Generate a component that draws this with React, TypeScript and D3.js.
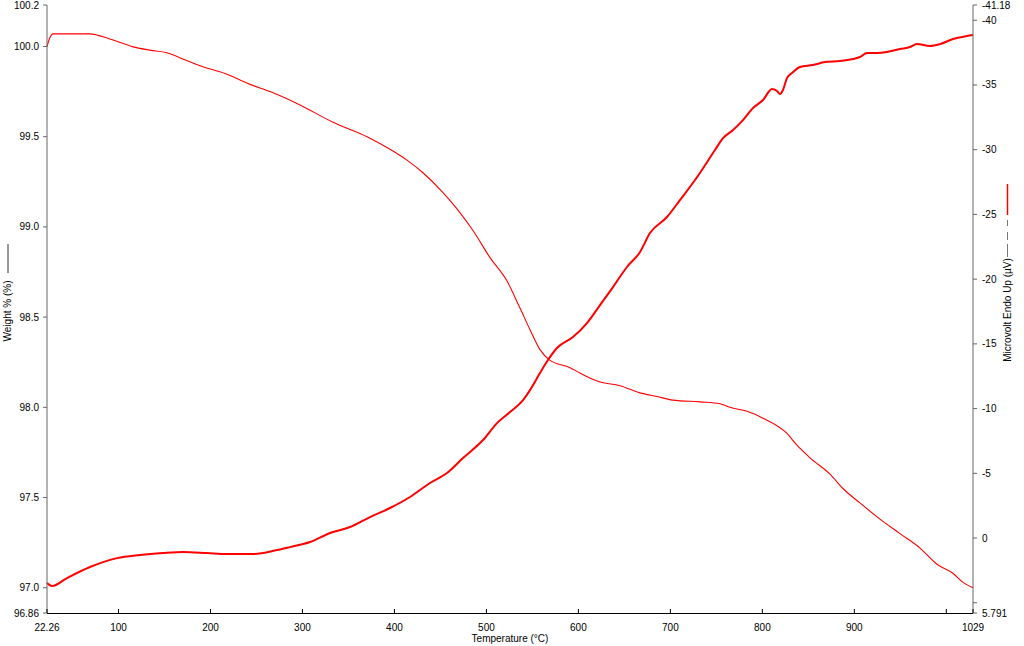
import React from 'react'
import * as d3 from 'd3'

// Weight % curve (thin line)
const weightTemps = [22.26, 25.5, 28.8, 36.4, 69.0, 83.1, 99.5, 115.8, 134.2, 152.7, 172.3, 188.6, 215.8, 243.0, 264.7, 297.3, 333.2, 370.2, 395.2, 413.6, 431.0, 452.8, 468.0, 485.4, 503.9, 522.4, 536.5, 547.4, 558.2, 569.1, 590.9, 601.7, 623.5, 645.2, 666.9, 685.4, 702.7, 732.2, 753.9, 764.8, 783.3, 800.7, 826.8, 837.6, 851.8, 873.5, 887.6, 906.1, 927.9, 949.6, 971.4, 989.8, 1007.2, 1018.1, 1029]
const weightValues = [100.0, 100.05, 100.07, 100.07, 100.07, 100.054, 100.026, 99.998, 99.98, 99.965, 99.926, 99.893, 99.85, 99.79, 99.75, 99.676, 99.58, 99.5, 99.43, 99.37, 99.3, 99.19, 99.1, 98.98, 98.83, 98.7, 98.55, 98.43, 98.32, 98.26, 98.22, 98.19, 98.14, 98.12, 98.08, 98.06, 98.04, 98.03, 98.02, 98.0, 97.978, 97.94, 97.855, 97.79, 97.72, 97.63, 97.55, 97.47, 97.38, 97.3, 97.22, 97.13, 97.08, 97.03, 97.0]

// Microvolt curve (thick line)
const dscTemps = [22.26, 27.7, 44.0, 69.0, 98.4, 123.4, 148.4, 170.1, 196.2, 217.9, 246.2, 272.3, 286.4, 308.2, 329.9, 351.7, 373.4, 395.2, 416.9, 438.7, 457.1, 474.5, 496.3, 511.5, 525.6, 539.8, 547.4, 558.2, 566.9, 576.7, 594.1, 609.3, 623.5, 637.6, 652.8, 667.0, 677.8, 696.3, 710.4, 726.8, 748.5, 757.2, 768.1, 778.9, 789.8, 800.7, 810.5, 815.9, 819.2, 822.4, 826.8, 832.2, 840.9, 855.0, 868.1, 884.4, 898.5, 906.1, 913.7, 924.6, 935.5, 949.6, 960.5, 968.1, 982.2, 993.1, 1007.2, 1022.4, 1029]
const dscValues = [3.48, 3.71, 3.09, 2.24, 1.55, 1.31, 1.16, 1.08, 1.16, 1.24, 1.24, 0.93, 0.7, 0.31, -0.39, -0.85, -1.62, -2.32, -3.17, -4.25, -5.02, -6.18, -7.57, -8.88, -9.73, -10.66, -11.43, -12.75, -13.75, -14.68, -15.53, -16.61, -18.0, -19.39, -20.94, -22.1, -23.56, -24.8, -26.11, -27.66, -29.98, -30.9, -31.52, -32.29, -33.22, -33.84, -34.69, -34.53, -34.3, -34.61, -35.54, -35.92, -36.39, -36.54, -36.77, -36.85, -37.01, -37.16, -37.47, -37.47, -37.55, -37.78, -37.93, -38.16, -38.01, -38.16, -38.55, -38.78, -38.86]

// axis ticks and labels
const xTicks = [22.26, 100, 200, 300, 400, 500, 600, 700, 800, 900, 1000, 1029]
const xLabels = ['22.26', '100', '200', '300', '400', '500', '600', '700', '800', '900', '', '1029']
const leftTicks = [96.86, 97.0, 97.5, 98.0, 98.5, 99.0, 99.5, 100.0, 100.23]
const leftLabels = ['96.86', '97.0', '97.5', '98.0', '98.5', '99.0', '99.5', '100.0', '100.2']
const rightTicks = [-41.18, -40, -35, -30, -25, -20, -15, -10, -5, 0, 5, 5.791]
const rightLabels = ['-41.18', '-40', '-35', '-30', '-25', '-20', '-15', '-10', '-5', '0', '', '5.791']

const W = 1024
const H = 646
const left = 47
const right = 973
const top = 5
const bottom = 613
const font = 'Liberation Sans, Arial, sans-serif'

export default function App() {
    const x = d3.scaleLinear().domain([22.26, 1029]).range([left, right])
    const yW = d3.scaleLinear().domain([96.86, 100.23]).range([bottom, top])
    const yD = d3.scaleLinear().domain([5.791, -41.18]).range([bottom, top])

    const weightLine = d3.line<number>()
        .x((_, i) => x(weightTemps[i]))
        .y(d => yW(d))
        .curve(d3.curveMonotoneX)
    const dscLine = d3.line<number>()
        .x((_, i) => x(dscTemps[i]))
        .y(d => yD(d))
        .curve(d3.curveMonotoneX)

    return (
        <svg width={W} height={H} style={{ position: 'absolute', left: 0, top: 0, background: 'white', display: 'block' }}
            fontFamily={font} fontSize={10}>
            <path d={weightLine(weightValues) || ''} fill="none" stroke="#ff0000" strokeWidth={1.1} />
            <path d={dscLine(dscValues) || ''} fill="none" stroke="#ff0000" strokeWidth={2} />

            {/* left axis */}
            <line x1={left} x2={left} y1={top} y2={bottom} stroke="#666" />
            {leftTicks.map((t, i) => (
                <g key={'l' + i}>
                    <line x1={left - 4} x2={left} y1={yW(t)} y2={yW(t)} stroke="#666" />
                    <text x={39} y={yW(t)} dy="0.35em" textAnchor="end">{leftLabels[i]}</text>
                </g>
            ))}

            {/* right axis */}
            <line x1={right} x2={right} y1={top} y2={bottom} stroke="#666" />
            {rightTicks.map((t, i) => (
                <g key={'r' + i}>
                    <line x1={right} x2={right + 4} y1={yD(t)} y2={yD(t)} stroke="#666" />
                    <text x={982} y={yD(t)} dy="0.35em">{rightLabels[i]}</text>
                </g>
            ))}

            {/* bottom axis */}
            <line x1={left} x2={right} y1={bottom + 0.5} y2={bottom + 0.5} stroke="#000" />
            {xTicks.map((t, i) => (
                <g key={'x' + i}>
                    <line x1={x(t)} x2={x(t)} y1={bottom - 4} y2={bottom} stroke="#000" />
                    <text x={x(t)} y={631} textAnchor="middle">{xLabels[i]}</text>
                </g>
            ))}

            {/* axis titles with line keys */}
            <text x={510} y={642} textAnchor="middle">Temperature (°C)</text>

            <line x1={8} x2={8} y1={244} y2={273} stroke="#333" />
            <text transform="translate(11,311) rotate(-90)" textAnchor="middle">Weight % (%)</text>

            <line x1={1007.5} x2={1007.5} y1={184} y2={215} stroke="#ff0000" strokeWidth={1.5} />
            <line x1={1007.5} x2={1007.5} y1={220} y2={226} stroke="#777" />
            <line x1={1007.5} x2={1007.5} y1={232} y2={240} stroke="#777" />
            <line x1={1007.5} x2={1007.5} y1={244} y2={257} stroke="#777" />
            <text transform="translate(1011,310) rotate(-90)" textAnchor="middle">Microvolt Endo Up (µV)</text>
        </svg>
    )
}
